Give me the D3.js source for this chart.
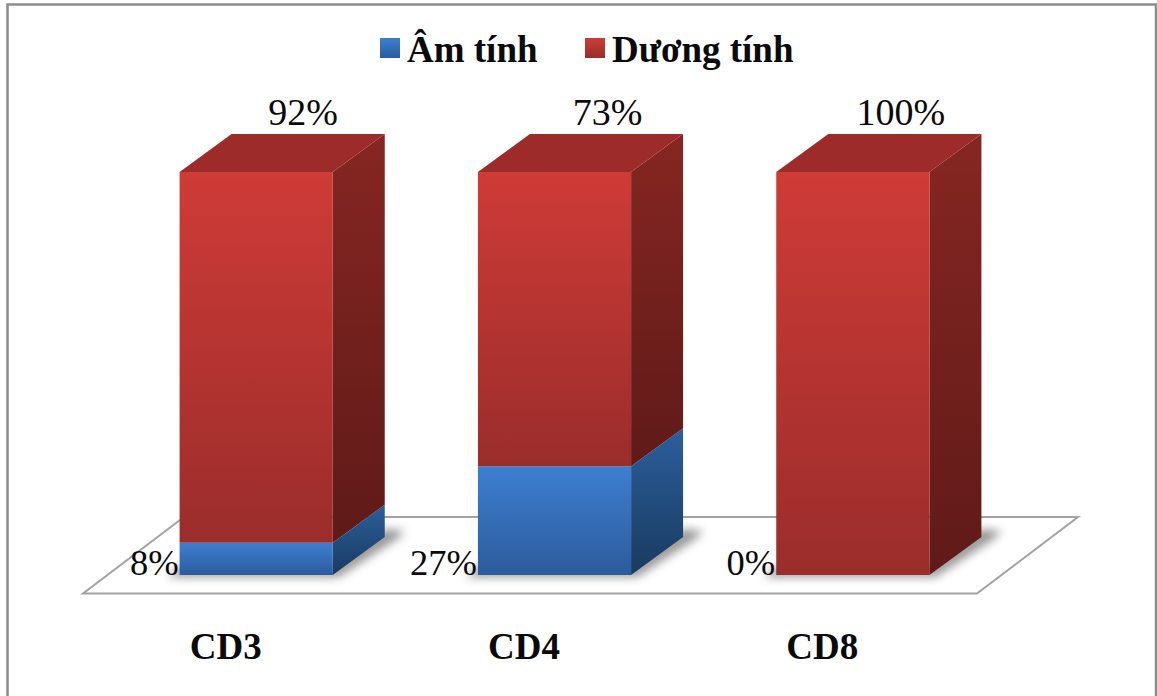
<!DOCTYPE html>
<html>
<head>
<meta charset="utf-8">
<script src="https://cdn.jsdelivr.net/npm/d3@7/dist/d3.min.js"></script>
<style>
html,body{margin:0;padding:0;background:#fff;overflow:hidden}
svg{display:block}
text{font-family:"Liberation Serif","Times New Roman",serif;fill:#0a0a0a}
</style>
</head>
<body>
<svg id="chart" width="1157" height="696"></svg>
<script>
// Share of negative and positive staining per marker
const categories = ["CD3", "CD4", "CD8"];
const negative = [8, 27, 0];
const positive = [92, 73, 100];
const seriesNames = ["Âm tính", "Dương tính"];
// Horizontal placement of the upper labels relative to each box centre
const topLabelShift = [47, 53, 48];

const W = 1157, H = 696;
const depth = {dx: 52, dy: -38};
const svg = d3.select("#chart");
const defs = svg.append("defs");

function gradient(id, top, bottom) {
  const g = defs.append("linearGradient").attr("id", id)
    .attr("x1", 0).attr("y1", 0).attr("x2", 0).attr("y2", 1);
  g.append("stop").attr("offset", "0%").attr("stop-color", top);
  g.append("stop").attr("offset", "100%").attr("stop-color", bottom);
}
gradient("redFront", "#cf3b37", "#9a2d2b");
gradient("redSide", "#862622", "#5f1a18");
gradient("blueFront", "#3e7ed0", "#2b5c9c");
gradient("blueSide", "#2b5f9c", "#1a3a60");
defs.append("filter").attr("id", "soft")
  .attr("x", "-30%").attr("y", "-30%").attr("width", "160%").attr("height", "160%")
  .append("feGaussianBlur").attr("stdDeviation", 5);

const x = d3.scaleBand().domain(categories).range([107, 1002]).paddingInner(0.4866).paddingOuter(0.2433);
const y = d3.scaleLinear().domain([0, 100]).range([575, 172]);

// Outer frame; its lower edge runs past the bottom of the page
svg.append("rect").attr("x", 7.5).attr("y", 4.5).attr("width", 1148.5).attr("height", H + 10)
  .attr("fill", "#fff").attr("stroke", "#8c8c8c").attr("stroke-width", 2.5);

// Floor plane
const floorFront = y(0) + 18.5, floorBack = floorFront - 76.5;
svg.append("path")
  .attr("d", d3.line()([[83, floorFront], [977, floorFront], [1078, floorBack], [184, floorBack]]) + "Z")
  .attr("fill", "#fff").attr("stroke", "#a3a3a3").attr("stroke-width", 2);

const w = x.bandwidth();

// Cast shadows on the floor
svg.append("g").selectAll("path").data(categories).join("path")
  .attr("filter", "url(#soft)").attr("fill", "#555").attr("opacity", 0.62)
  .attr("d", c => {
    const r = x(c) + w, b = y(0);
    return d3.line()([[x(c) - 12, b + 2], [r + 6, b + 2], [r + depth.dx + 12, b + depth.dy + 2],
      [r + depth.dx + 20, b + depth.dy - 6], [r + depth.dx, b + depth.dy - 8], [r, b - 8], [x(c), b - 8]]) + "Z";
  });

// One segment of a stacked box: front face and side face
function drawBox(g, c, lo, hi, front, side) {
  const l = x(c), r = l + w, y0 = y(lo), y1 = y(hi);
  g.append("path").attr("fill", `url(#${side})`)
    .attr("d", d3.line()([[r, y0], [r + depth.dx, y0 + depth.dy], [r + depth.dx, y1 + depth.dy], [r, y1]]) + "Z");
  g.append("rect").attr("x", l).attr("y", y1).attr("width", w).attr("height", y0 - y1)
    .attr("fill", `url(#${front})`);
}

const bars = svg.append("g");
categories.forEach((c, i) => {
  const g = bars.append("g");
  if (negative[i] > 0) drawBox(g, c, 0, negative[i], "blueFront", "blueSide");
  drawBox(g, c, negative[i], negative[i] + positive[i], "redFront", "redSide");
  const l = x(c), r = l + w, t = y(negative[i] + positive[i]);
  g.append("path").attr("fill", "#9c2b29")
    .attr("d", d3.line()([[l, t], [l + depth.dx, t + depth.dy], [r + depth.dx, t + depth.dy], [r, t]]) + "Z");
});

// Value labels
svg.append("g").selectAll("text").data(categories).join("text")
  .attr("x", (c, i) => x(c) + w / 2 + topLabelShift[i]).attr("y", 125)
  .attr("text-anchor", "middle").attr("font-size", 38)
  .text((c, i) => positive[i] + "%");
svg.append("g").selectAll("text").data(categories).join("text")
  .attr("x", c => x(c) - 1).attr("y", 575)
  .attr("text-anchor", "end").attr("font-size", 36.5)
  .text((c, i) => negative[i] + "%");

// Category axis
const axis = svg.append("g").attr("transform", "translate(-30.5,659)")
  .call(d3.axisBottom(x).tickSize(0).tickPadding(0));
axis.select(".domain").remove();
axis.selectAll("text").attr("y", 0).attr("dy", 0)
  .attr("font-size", 37).attr("font-weight", "bold").attr("font-family", null);

// Legend
const legendX = [380, 585], legendTextX = [407, 612], swatch = 20;
const legend = svg.append("g").selectAll("g").data(seriesNames).join("g");
legend.append("rect").attr("x", (d, i) => legendX[i]).attr("y", 38)
  .attr("width", swatch).attr("height", swatch)
  .attr("fill", (d, i) => i ? "url(#redFront)" : "url(#blueFront)");
legend.append("text").attr("x", (d, i) => legendTextX[i]).attr("y", 62)
  .attr("font-size", 37).attr("font-weight", "bold").text(d => d);
</script>
</body>
</html>
